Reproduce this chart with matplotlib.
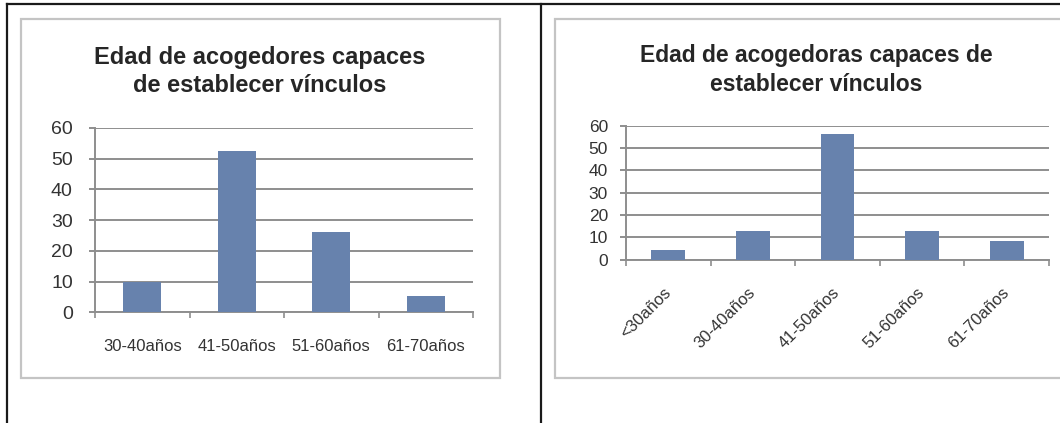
import matplotlib
matplotlib.use("Agg")
import matplotlib.pyplot as plt
from matplotlib.patches import Rectangle
from matplotlib.lines import Line2D
import numpy as np

# ---------------- data ----------------
title_left = "Edad de acogedores capaces\nde establecer vínculos"
cats_left = ["30-40años", "41-50años", "51-60años", "61-70años"]
vals_left = [10, 52.6, 26.2, 5.4]

title_right = "Edad de acogedoras capaces de\nestablecer vínculos"
cats_right = ["<30años", "30-40años", "41-50años", "51-60años", "61-70años"]
vals_right = [4.2, 12.7, 56.3, 12.7, 8.5]

yticks = [0, 10, 20, 30, 40, 50, 60]

# ---------------- layout helpers ----------------
W, H = 1060, 423
plt.rcParams['font.family'] = ['Liberation Sans', 'DejaVu Sans']
fig = plt.figure(figsize=(W / 100, H / 100), dpi=100)
fig.patch.set_facecolor("white")


def fx(x):
    return x / W


def fy(y):
    return 1 - y / H


BAR = "#6782ad"
GRID = "#8e8e8e"
TXT = "#333333"

# black table borders
for (x0, y0, x1, y1) in [(7, 4, 1060, 4), (7, 4, 7, 423), (541, 4, 541, 423)]:
    fig.add_artist(Line2D([fx(x0), fx(x1)], [fy(y0), fy(y1)], color="#1a1a1a",
                          lw=1.6, transform=fig.transFigure, zorder=0.5))

# chart frames
for (x0, y0, x1, y1) in [(21, 19, 500, 378), (555, 19, 1065, 378)]:
    fig.add_artist(Rectangle((fx(x0), fy(y1)), fx(x1) - fx(x0), fy(y0) - fy(y1),
                             transform=fig.transFigure, facecolor="white",
                             edgecolor="#c4c4c4", lw=1.6, zorder=0.5))


def make_chart(rect, cats, vals, ylab_size, xlab_size, rotate, xpad, ypad):
    x0, ytop, x1, ybot = rect
    ax = fig.add_axes([fx(x0), fy(ybot), fx(x1) - fx(x0), fy(ytop) - fy(ybot)])
    ax.set_zorder(2)
    n = len(cats)
    pos = np.arange(n)
    ax.bar(pos, vals, width=0.4, color=BAR, zorder=3)
    ax.set_xlim(-0.5, n - 0.5)
    ax.set_ylim(0, 60)
    ax.set_yticks(yticks)
    ax.set_yticklabels([str(t) for t in yticks], fontsize=ylab_size, color=TXT)
    ax.yaxis.grid(True, color=GRID, lw=1.4, zorder=0)
    ax.set_axisbelow(True)
    ax.tick_params(axis="y", length=4, width=1.4, color=GRID, pad=ypad)
    # boundary ticks on x (major), labels at category centres (minor)
    ax.set_xticks(np.arange(n + 1) - 0.5)
    ax.set_xticklabels([])
    ax.tick_params(axis="x", which="major", length=4, width=1.2, color=GRID)
    ax.set_xticks(pos, minor=True)
    if rotate:
        ax.set_xticklabels(cats, minor=True, fontsize=xlab_size, color=TXT,
                           rotation=45, ha="right", va="center",
                           rotation_mode="anchor")
    else:
        ax.set_xticklabels(cats, minor=True, fontsize=xlab_size, color=TXT)
    ax.tick_params(axis="x", which="minor", length=0, pad=xpad)
    for s in ["top", "right"]:
        ax.spines[s].set_visible(False)
    for s in ["left", "bottom"]:
        ax.spines[s].set_color(GRID)
        ax.spines[s].set_linewidth(1.4)
    ax.set_facecolor("none")
    return ax


make_chart((95, 128, 473, 312.3), cats_left, vals_left, 14, 12, False, 19, 12)
make_chart((626, 126, 1049, 259.5), cats_right, vals_right, 12.5, 12, True, 22, 9)

t1 = fig.text(fx(260), fy(71.5), title_left, ha="center", va="center", fontsize=17,
              fontweight="bold", color="#262626", linespacing=1.3, zorder=3)
t2 = fig.text(fx(816), fy(70), title_right, ha="center", va="center", fontsize=16.5,
              fontweight="bold", color="#262626", linespacing=1.3, zorder=3)

fig.savefig("out.png", dpi=100, facecolor="white")
